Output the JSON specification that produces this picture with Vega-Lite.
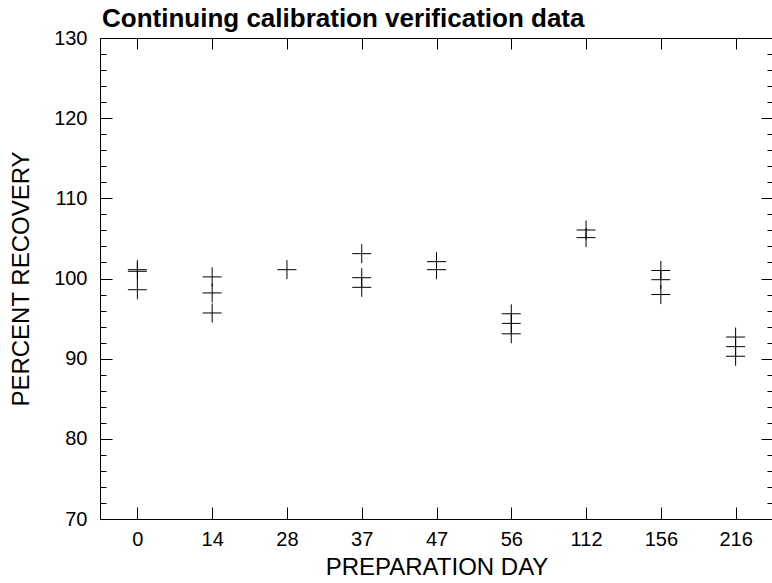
{
  "$schema": "https://vega.github.io/schema/vega-lite/v6.json",
  "width": 673,
  "height": 481,
  "autosize": "none",
  "padding": {"left": 100, "top": 38, "right": 0, "bottom": 64},
  "title": {
    "text": "Continuing calibration verification data",
    "anchor": "start",
    "frame": "group",
    "font": "Liberation Sans",
    "fontSize": 26,
    "fontWeight": "bold",
    "color": "black",
    "offset": 4,
    "dx": 2,
    "dy": 8
  },
  "config": {
    "view": {"stroke": null},
    "axis": {
      "labelFont": "Liberation Sans",
      "titleFont": "Liberation Sans",
      "labelColor": "black",
      "titleColor": "black",
      "domainColor": "black",
      "tickColor": "black",
      "grid": false,
      "labelFontSize": 20,
      "titleFontSize": 24,
      "titleFontWeight": "normal"
    }
  },
  "data": {
    "values": [
      {"day": "0", "recovery": 101.1},
      {"day": "0", "recovery": 100.9},
      {"day": "0", "recovery": 98.6},
      {"day": "14", "recovery": 100.2},
      {"day": "14", "recovery": 98.2},
      {"day": "14", "recovery": 95.7},
      {"day": "28", "recovery": 101.1},
      {"day": "37", "recovery": 103.1},
      {"day": "37", "recovery": 100.1},
      {"day": "37", "recovery": 98.9},
      {"day": "47", "recovery": 102.1},
      {"day": "47", "recovery": 101.1},
      {"day": "56", "recovery": 95.6},
      {"day": "56", "recovery": 94.4},
      {"day": "56", "recovery": 93.1},
      {"day": "112", "recovery": 106.05},
      {"day": "112", "recovery": 105.1},
      {"day": "156", "recovery": 101.0},
      {"day": "156", "recovery": 99.85},
      {"day": "156", "recovery": 98.0},
      {"day": "216", "recovery": 92.7},
      {"day": "216", "recovery": 91.5},
      {"day": "216", "recovery": 90.3}
    ]
  },
  "resolve": {"axis": {"x": "independent", "y": "independent"}},
  "layer": [
    {
      "mark": {
        "type": "point",
        "shape": "M-1,0H1M0,-1V1",
        "size": 361,
        "filled": false,
        "stroke": "black",
        "strokeWidth": 1,
        "opacity": 1
      },
      "encoding": {
        "x": {
          "field": "day",
          "type": "ordinal",
          "sort": ["0", "14", "28", "37", "47", "56", "112", "156", "216"],
          "scale": {"type": "point", "padding": 0.5},
          "axis": {
            "orient": "bottom",
            "title": "PREPARATION DAY",
            "labelAngle": 0,
            "tickSize": -12,
            "labelPadding": 22,
            "titlePadding": 6
          }
        },
        "y": {
          "field": "recovery",
          "type": "quantitative",
          "scale": {"domain": [70, 130], "nice": false, "zero": false},
          "axis": {
            "orient": "left",
            "title": "PERCENT RECOVERY",
            "values": [70, 72, 74, 76, 78, 80, 82, 84, 86, 88, 90, 92, 94, 96, 98, 100, 102, 104, 106, 108, 110, 112, 114, 116, 118, 120, 122, 124, 126, 128, 130],
            "labelExpr": "datum.value % 10 === 0 ? datum.label : ''",
            "tickSize": {"condition": {"test": "datum.value % 10 === 0", "value": -12}, "value": -6},
            "labelPadding": 25,
            "titlePadding": 20
          }
        }
      }
    },
    {
      "mark": {
        "type": "point",
        "shape": "M-1,0H1M0,-1V1",
        "size": 361,
        "filled": false,
        "opacity": 0
      },
      "encoding": {
        "x": {
          "field": "day",
          "type": "ordinal",
          "sort": ["0", "14", "28", "37", "47", "56", "112", "156", "216"],
          "scale": {"type": "point", "padding": 0.5},
          "axis": {
            "orient": "top",
            "title": null,
            "labels": false,
            "tickSize": -11
          }
        },
        "y": {
          "field": "recovery",
          "type": "quantitative",
          "scale": {"domain": [70, 130], "nice": false, "zero": false},
          "axis": {
            "orient": "right",
            "title": null,
            "labels": false,
            "values": [70, 72, 74, 76, 78, 80, 82, 84, 86, 88, 90, 92, 94, 96, 98, 100, 102, 104, 106, 108, 110, 112, 114, 116, 118, 120, 122, 124, 126, 128, 130],
            "tickSize": {"condition": {"test": "datum.value % 10 === 0", "value": -12}, "value": -6}
          }
        }
      }
    }
  ]
}
